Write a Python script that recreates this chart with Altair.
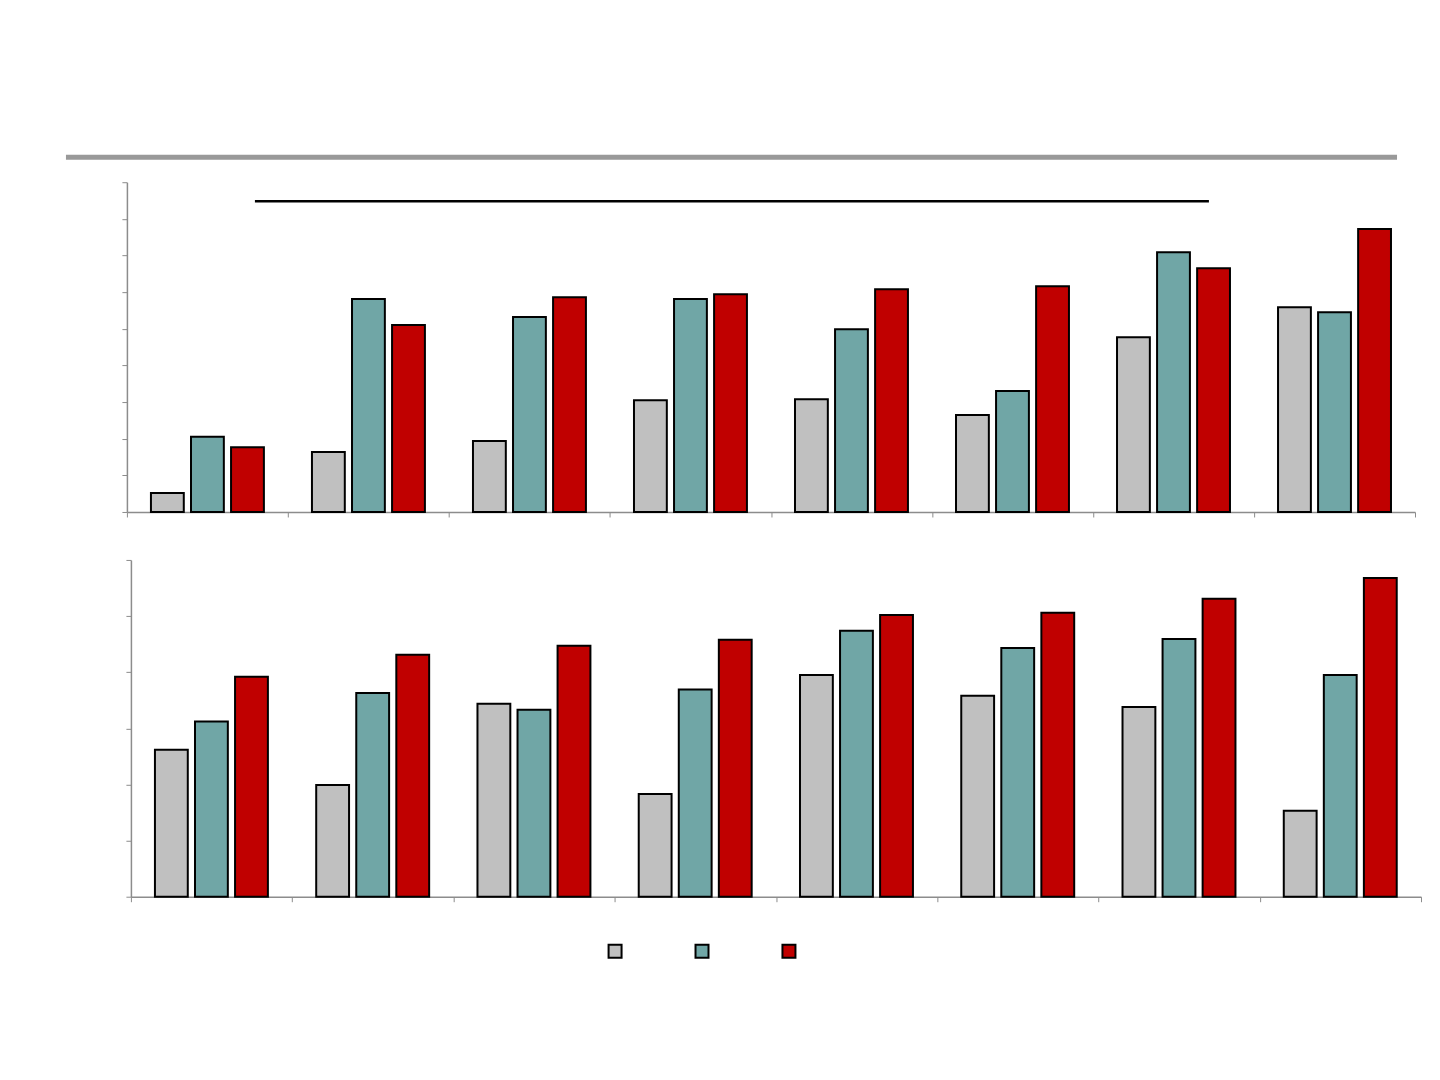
import altair as alt
import pandas as pd

groups = ["G1", "G2", "G3", "G4", "G5", "G6", "G7", "G8"]
series = ["Series 1", "Series 2", "Series 3"]
colors = ["#C0C0C0", "#70A6A6", "#C00000"]

top_s1 = [0.52, 1.64, 1.94, 3.05, 3.08, 2.65, 4.77, 5.59]
top_s2 = [2.05, 5.81, 5.32, 5.81, 4.99, 3.30, 7.09, 5.45]
top_s3 = [1.77, 5.10, 5.86, 5.94, 6.08, 6.16, 6.65, 7.72]

bot_s1 = [2.62, 1.99, 3.44, 1.83, 3.95, 3.58, 3.38, 1.53]
bot_s2 = [3.12, 3.63, 3.33, 3.69, 4.74, 4.43, 4.59, 3.95]
bot_s3 = [3.92, 4.31, 4.47, 4.58, 5.02, 5.06, 5.31, 5.68]

# reference line in the top panel: start group position, end group position, value
ref_line = [0.795, 6.72, 8.48]

top_ticks = list(range(0, 10))
bot_ticks = list(range(0, 7))

AXIS_COLOR = "#8C8C8C"


def make_df(a, b, c):
    rows = []
    for vals, s in zip([a, b, c], series):
        for g, v in zip(groups, vals):
            rows.append({"group": g, "series": s, "value": v})
    return pd.DataFrame(rows)


def y_axis(ticks, offset=0):
    return alt.Axis(values=ticks, labels=False, title=None, grid=False,
                    tickSize=5, domainColor=AXIS_COLOR, tickColor=AXIS_COLOR,
                    domainWidth=1.5, offset=offset)


def x_enc(rng=None):
    sc = alt.Scale(paddingInner=0, paddingOuter=0)
    if rng is not None:
        sc = alt.Scale(paddingInner=0, paddingOuter=0, range=rng)
    return alt.X(
        "group:N",
        sort=groups,
        scale=sc,
        axis=alt.Axis(labels=False, title=None, tickBand="extent", tickSize=5,
                      domainColor=AXIS_COLOR, tickColor=AXIS_COLOR, domainWidth=1.5),
    )


def xoff_enc(align):
    return alt.XOffset("series:N", sort=series,
                       scale=alt.Scale(paddingInner=0.18, paddingOuter=0.6, align=align))


legend = alt.Legend(
    title=None, orient="none", direction="horizontal",
    legendX=481, legendY=762,
    symbolType="square", symbolSize=169, symbolStrokeColor="black",
    symbolStrokeWidth=2, symbolOpacity=1, labelExpr="''", labelOffset=4,
    columnPadding=65,
)


def bars(df, ticks, w, h, rng=None, yoff=0, align=0.5):
    color = alt.Color(
        "series:N", sort=series,
        scale=alt.Scale(domain=series, range=colors),
        legend=legend,
    )
    return alt.Chart(df).mark_bar(stroke="black", strokeWidth=2).encode(
        x=x_enc(rng),
        xOffset=xoff_enc(align),
        y=alt.Y("value:Q",
                scale=alt.Scale(domain=[ticks[0], ticks[-1]], nice=False),
                axis=y_axis(ticks, yoff)),
        color=color,
    ).properties(width=w, height=h)


top_bars = bars(make_df(top_s1, top_s2, top_s3), top_ticks, 1289, 330)

line_df = pd.DataFrame({"x0": [ref_line[0]], "x1": [ref_line[1]], "v": [ref_line[2]]})
top_line = alt.Chart(line_df).mark_rule(color="black", strokeWidth=2.5).encode(
    x=alt.X("x0:Q", scale=alt.Scale(domain=[0, 8], nice=False), axis=None),
    x2="x1:Q",
    y=alt.Y("v:Q", axis=y_axis(top_ticks)),
)

header = alt.Chart(line_df).mark_rule(color="#999999", strokeWidth=5, strokeCap="butt").encode(
    x=alt.value(-61), x2=alt.value(1271), y=alt.value(-25)
)

top = alt.layer(top_bars, top_line, header).resolve_scale(x="independent")

bottom = bars(make_df(bot_s1, bot_s2, bot_s3), bot_ticks, 1295, 337,
              rng=[4, 1295], yoff=-4, align=0.55)

chart = alt.vconcat(top, bottom, spacing=41).properties(
    padding={"left": 55, "top": 146, "right": 10, "bottom": 10},
    background="white",
).configure_view(strokeWidth=0)

chart.save("out.html", embed_options={"renderer": "svg", "actions": False})
